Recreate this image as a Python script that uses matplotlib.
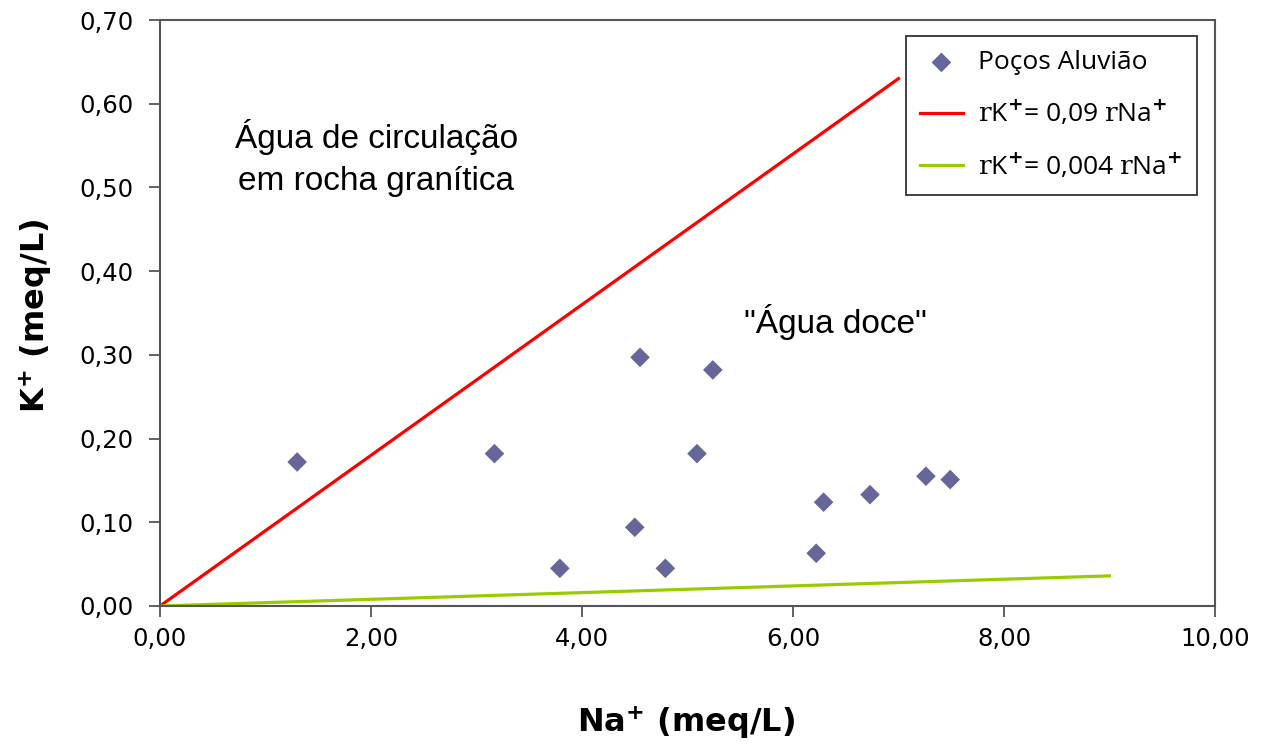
import matplotlib
matplotlib.use("Agg")
import matplotlib.pyplot as plt
from matplotlib.ticker import FuncFormatter

# Alluvial wells: sodium vs potassium (meq/L)
na_wells = [1.30, 3.17, 3.79, 4.50, 4.55, 4.79, 5.09, 5.24, 6.22, 6.29, 6.73, 7.26, 7.49]
k_wells = [0.172, 0.182, 0.045, 0.094, 0.297, 0.045, 0.182, 0.282, 0.063, 0.124, 0.133, 0.155, 0.151]

# Reference ratio lines rK+ = a * rNa+
red_x = [0.0, 7.0]
red_y = [0.0, 0.63]
green_x = [0.0, 9.0]
green_y = [0.0, 0.036]

x_ticks = [0, 2, 4, 6, 8, 10]
y_ticks = [0.0, 0.1, 0.2, 0.3, 0.4, 0.5, 0.6, 0.7]

plt.rcParams["mathtext.fontset"] = "custom"
plt.rcParams["mathtext.rm"] = "DejaVu Serif"
plt.rcParams["mathtext.bf"] = "DejaVu Sans:bold"

W, H = 1269, 747
fig = plt.figure(figsize=(W / 100, H / 100), dpi=100)
ax = fig.add_axes([160 / W, 1 - 606 / H, (1215 - 160) / W, (606 - 20) / H])

ax.scatter(na_wells, k_wells, marker="D", s=100, color="#666699",
           edgecolors="none", zorder=3, label="Poços Aluvião")
ax.plot(red_x, red_y, color="#FF0000", lw=2.3, zorder=2,
        label=r"$\mathrm{r}$K$^{\mathbf{+}}$= 0,09 $\mathrm{r}$Na$^{\mathbf{+}}$")
ax.plot(green_x, green_y, color="#99CC00", lw=2.3, zorder=2,
        label=r"$\mathrm{r}$K$^{\mathbf{+}}$= 0,004 $\mathrm{r}$Na$^{\mathbf{+}}$")

ax.set_xlim(0, 10)
ax.set_ylim(0, 0.7)
ax.set_xticks(x_ticks)
ax.set_yticks(y_ticks)
comma = FuncFormatter(lambda v, p: f"{v:.2f}".replace(".", ","))
ax.xaxis.set_major_formatter(comma)
ax.yaxis.set_major_formatter(comma)
ax.tick_params(direction="out", length=8, width=1.3, color="#555555",
               labelsize=17.5)
ax.tick_params(axis="y", pad=11)
ax.tick_params(axis="x", pad=7)
for sp in ax.spines.values():
    sp.set_color("#555555")
    sp.set_linewidth(1.5)

# Axis titles
fig.text(686 / W, 1 - 722 / H, r"Na$^{\mathbf{+}}$ (meq/L)", fontsize=23,
         fontweight="bold", ha="center", va="center")
fig.text(35 / W, 1 - 316 / H, r"K$^{\mathbf{+}}$ (meq/L)", fontsize=23,
         fontweight="bold", ha="center", va="center", rotation=90)

ax.text(2.05, 0.535, "Água de circulação\nem rocha granítica", ha="center", va="center",
        fontsize=24, family="Liberation Sans", linespacing=1.45)
ax.text(6.4, 0.339, "\"Água doce\"", ha="center", va="center",
        fontsize=24, family="Liberation Sans")

leg = ax.legend(loc="upper right", bbox_to_anchor=(0.983, 0.973), fancybox=False,
                framealpha=1, edgecolor="#333333", prop={"family": "Open Sans", "size": 19},
                handlelength=1.6, borderpad=0.55, labelspacing=0.88, handletextpad=0.6,
                borderaxespad=0)
leg.get_frame().set_linewidth(1.3)

fig.savefig("out.png", dpi=100)
